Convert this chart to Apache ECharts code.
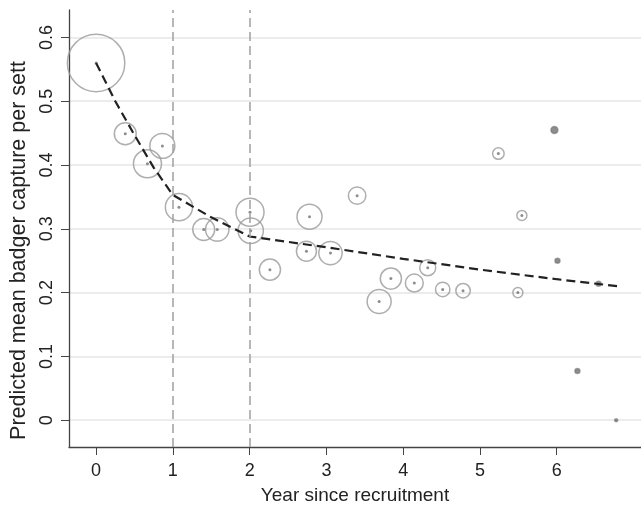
<!DOCTYPE html>
<html>
<head>
<meta charset="utf-8">
<script src="https://cdn.jsdelivr.net/npm/echarts@6/dist/echarts.min.js"></script>
<style>
  html, body { margin: 0; padding: 0; background: #fff; }
  #chart { width: 641px; height: 510px; }
</style>
</head>
<body>
<div id="chart"></div>
<script>
const years = [0, 0.38, 0.669, 0.863, 1.079, 1.402, 1.578, 2.005, 2.014, 2.264, 2.78, 2.74, 3.053, 3.40,
  3.687, 3.84, 4.145, 4.32, 4.515, 4.78, 5.24, 5.494, 5.546, 5.97, 6.01, 6.27, 6.775, 6.545];
const captures = [0.560, 0.449, 0.402, 0.430, 0.334, 0.299, 0.299, 0.326, 0.297, 0.236, 0.319, 0.265, 0.262, 0.352,
  0.186, 0.222, 0.215, 0.239, 0.205, 0.203, 0.418, 0.200, 0.321, 0.455, 0.250, 0.077, 0.000, 0.214];
const weights = [206, 30, 49, 39, 46, 30, 34, 49, 40, 28, 39, 25, 34, 19,
  36, 28, 20, 16, 13, 13, 8.4, 6.3, 6.3, 3.1, 1.6, 1.6, 0.6, 1.6];

// fitted curve
const fitYears = [0, 0.25, 0.5, 0.75, 1, 1.5, 2, 3, 4, 5, 6, 6.8];
const fitValues = [0.560, 0.500, 0.447, 0.396, 0.353, 0.318, 0.288, 0.271, 0.253, 0.236, 0.221, 0.210];

const knots = [1, 2];
const xTicks = [0, 1, 2, 3, 4, 5, 6];
const yTicks = [0, 0.1, 0.2, 0.3, 0.4, 0.5, 0.6];

const font = 'Liberation Sans, Arial, sans-serif';
const points = years.map((x, i) => [x, captures[i], weights[i]]);
const ringSize = w => 4 * Math.sqrt(w);

const chart = echarts.init(document.getElementById('chart'));
chart.setOption({
  animation: false,
  grid: { left: 65, right: 0, top: 10, bottom: 59 },
  xAxis: {
    type: 'value',
    min: -0.353,
    max: 7.098,
    name: 'Year since recruitment',
    nameLocation: 'middle',
    nameGap: 39,
    nameTextStyle: { fontSize: 19, color: '#222', fontFamily: font },
    axisLine: { onZero: false, lineStyle: { color: '#444', width: 1.3 } },
    axisTick: { customValues: xTicks, length: 8, lineStyle: { color: '#444' } },
    axisLabel: { customValues: xTicks, fontSize: 18, color: '#222', fontFamily: font, margin: 15 },
    splitLine: { show: false }
  },
  yAxis: {
    type: 'value',
    min: -0.042,
    max: 0.643,
    name: 'Predicted mean badger capture per sett',
    nameLocation: 'middle',
    nameGap: 39,
    nameTextStyle: { fontSize: 21.5, color: '#222', fontFamily: font, padding: [0, 44, 0, 0] },
    axisLine: { onZero: false, lineStyle: { color: '#444', width: 1.3 } },
    axisTick: { customValues: yTicks, length: 8, lineStyle: { color: '#444' } },
    axisLabel: { customValues: yTicks, fontSize: 18, color: '#222', fontFamily: font, rotate: 90, margin: 13 },
    splitLine: { show: true, lineStyle: { color: '#e6e6e6', width: 1.5 } }
  },
  series: [
    {
      type: 'scatter',
      data: points,
      symbol: 'circle',
      symbolSize: d => ringSize(d[2]),
      itemStyle: { color: 'rgba(0,0,0,0)', borderColor: '#9a9a9a', borderWidth: 1.5 },
      z: 2,
      markLine: {
        silent: true,
        symbol: 'none',
        label: { show: false },
        lineStyle: { color: '#a0a0a0', type: [9, 5], width: 1.5 },
        data: knots.map(k => ({ xAxis: k }))
      }
    },
    {
      // centre dots; the lightest weights read as solid dots
      type: 'scatter',
      data: points,
      symbol: 'circle',
      symbolSize: d => (d[2] < 4 ? ringSize(d[2]) : 3),
      itemStyle: { color: '#707070' },
      z: 3
    },
    {
      type: 'line',
      data: fitYears.map((x, i) => [x, fitValues[i]]),
      showSymbol: false,
      lineStyle: { color: '#222', width: 2.2, type: [9, 5] },
      z: 4
    }
  ]
});
</script>
</body>
</html>
